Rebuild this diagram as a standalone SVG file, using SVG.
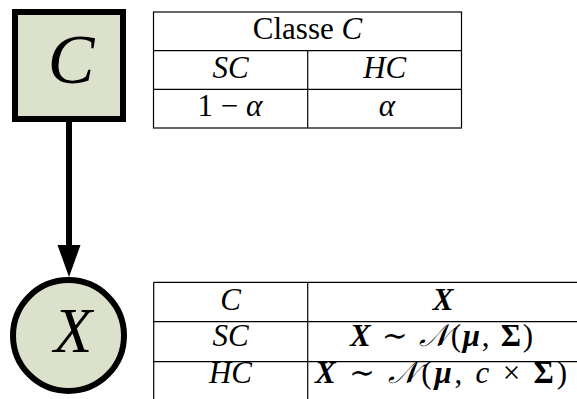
<svg xmlns="http://www.w3.org/2000/svg" width="577" height="399" viewBox="0 0 577 399">
<defs>
<style>
.node{fill:#dce1cb;stroke:#000;stroke-width:6}
.grid{stroke:#000;stroke-width:1.2;fill:none}
.t{font-family:"Liberation Serif","DejaVu Serif",serif;font-size:31px;fill:#000;text-anchor:middle}
.i{font-style:italic}
.bi{font-style:italic;font-weight:bold}
.b{font-weight:bold}
.big{font-family:"Liberation Serif","DejaVu Serif",serif;font-style:italic;fill:#000;text-anchor:middle}
.conn{stroke:#000;stroke-width:6;fill:none}
</style>
</defs>
<g id="connectors">
<line class="conn" x1="69" y1="122" x2="69" y2="245"/>
<path d="M57.5,245 L80.5,245 L69,277 Z" fill="#000"/>
</g>
<g id="node-C">
<rect class="node" x="15" y="12" width="108" height="107"/>
<text class="big" x="71" y="83" font-size="70">C</text>
</g>
<g id="node-X">
<circle class="node" cx="68.5" cy="335.5" r="55.5"/>
<text class="big" x="73" y="352" font-size="63">X</text>
</g>
<g id="table-C">
<rect class="grid" x="153.5" y="12" width="308" height="116"/>
<line class="grid" x1="153.5" y1="50.7" x2="461.5" y2="50.7"/>
<line class="grid" x1="153.5" y1="89.3" x2="461.5" y2="89.3"/>
<line class="grid" x1="307.7" y1="50.7" x2="307.7" y2="128"/>
<text class="t" x="307.5" y="38.5">Classe <tspan class="i">C</tspan></text>
<text class="t i" x="230.5" y="77.5">SC</text>
<text class="t i" x="384.7" y="77.5">HC</text>
<text class="t" x="230" y="116">1 − <tspan class="i">α</tspan></text>
<text class="t i" x="387" y="116">α</text>
</g>
<g id="table-X">
<line class="grid" x1="153.7" y1="282.3" x2="577" y2="282.3"/>
<line class="grid" x1="153.7" y1="321.7" x2="577" y2="321.7"/>
<line class="grid" x1="153.7" y1="361.7" x2="577" y2="361.7"/>
<line class="grid" x1="153.7" y1="282.3" x2="153.7" y2="399"/>
<line class="grid" x1="307.7" y1="282.3" x2="307.7" y2="399"/>
<text class="t i" x="230.5" y="310">C</text>
<text class="t bi" x="443" y="310">X</text>
<text class="t i" x="230.5" y="346">SC</text>
<text class="t" x="441.5" y="346" textLength="183" lengthAdjust="spacing"><tspan class="bi">X</tspan> ∼ <tspan class="i">𝒩</tspan>(<tspan class="bi">μ</tspan>, <tspan class="b">Σ</tspan>)</text>
<text class="t i" x="230.5" y="383">HC</text>
<text class="t" x="441" y="383" textLength="252" lengthAdjust="spacing"><tspan class="bi">X</tspan> ∼ <tspan class="i">𝒩</tspan>(<tspan class="bi">μ</tspan>, <tspan class="i">c</tspan> × <tspan class="b">Σ</tspan>)</text>
</g>
</svg>
